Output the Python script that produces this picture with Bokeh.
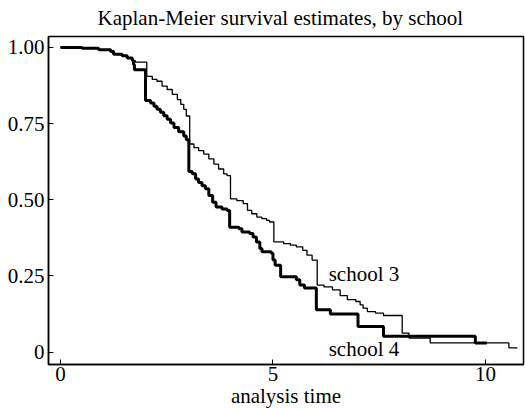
from bokeh.plotting import figure
from bokeh.models import Range1d, FixedTicker, CustomJSTickFormatter, Label
from bokeh.embed import file_html
from bokeh.resources import INLINE

# ---- data ----
school3_t = [0, 0.51, 0.90, 1.18, 1.25, 1.45, 1.57, 1.69, 1.76, 2.03, 2.16, 2.27, 2.39,
             2.51, 2.63, 2.75, 2.83, 2.90, 2.96, 3.04, 3.14, 3.25, 3.37, 3.49, 3.61,
             3.72, 3.84, 3.92, 4.00, 4.15, 4.30, 4.40, 4.50, 4.62, 4.74, 4.85, 4.92,
             5.02, 5.25, 5.41, 5.55, 5.70, 5.80, 5.92, 6.04, 6.20, 6.40, 6.58, 6.75,
             6.95, 7.05, 7.12, 7.22, 7.41, 7.60, 8.04, 8.20, 8.70, 10.55, 10.75]
school3_s = [1.0, 0.997, 0.992, 0.987, 0.978, 0.973, 0.965, 0.957, 0.952, 0.905, 0.895, 0.889, 0.873,
             0.862, 0.846, 0.829, 0.813, 0.797, 0.775, 0.683, 0.671, 0.661, 0.650, 0.634, 0.617,
             0.601, 0.585, 0.579, 0.503, 0.497, 0.487, 0.465, 0.454, 0.443, 0.438, 0.432, 0.427,
             0.362, 0.356, 0.351, 0.345, 0.334, 0.318, 0.302, 0.220, 0.214, 0.204, 0.185, 0.172,
             0.166, 0.155, 0.144, 0.133, 0.128, 0.120, 0.062, 0.046, 0.030, 0.014, 0.014]

school4_t = [0, 0.51, 0.90, 1.18, 1.25, 1.45, 1.57, 1.69, 1.72, 1.74, 2.00, 2.12, 2.20,
             2.27, 2.35, 2.43, 2.51, 2.59, 2.67, 2.78, 2.90, 2.96, 3.02, 3.10, 3.18, 3.25,
             3.33, 3.41, 3.49, 3.58, 3.66, 3.80, 3.92, 3.98, 4.20, 4.27, 4.45, 4.53, 4.61,
             4.69, 4.74, 4.96, 5.00, 5.05, 5.18, 5.55, 5.63, 5.74, 6.02, 6.35, 7.00, 7.60,
             9.76, 10.03]
school4_s = [1.0, 0.997, 0.992, 0.987, 0.978, 0.973, 0.965, 0.957, 0.943, 0.927, 0.826, 0.818, 0.807,
             0.797, 0.787, 0.776, 0.764, 0.752, 0.737, 0.723, 0.709, 0.697, 0.593, 0.585, 0.568, 0.557,
             0.546, 0.536, 0.514, 0.492, 0.476, 0.470, 0.465, 0.410, 0.405, 0.394, 0.389, 0.378, 0.361,
             0.340, 0.329, 0.324, 0.302, 0.285, 0.247, 0.237, 0.220, 0.210, 0.139, 0.125, 0.084, 0.052,
             0.030, 0.030]

x_ticks = [0, 5, 10]
y_ticks = [0, 0.25, 0.5, 0.75, 1.0]
series_names = ["school 3", "school 4"]
title_text = "Kaplan-Meier survival estimates, by school"
x_title = "analysis time"

FONT = "Liberation Serif"
FS = "21px"

p = figure(width=525, height=410, output_backend="svg", toolbar_location=None,
           x_range=Range1d(-0.282, 10.894), y_range=Range1d(-0.0408, 1.0359),
           min_border_left=48, min_border_right=2, min_border_top=35, min_border_bottom=45)

p.background_fill_color = "white"
p.border_fill_color = "white"
p.xgrid.grid_line_color = None
p.ygrid.grid_line_color = None
p.outline_line_color = "black"
p.outline_line_width = 1.5
p.outline_line_alpha = 1.0

p.title.text = title_text
p.title.text_font = FONT
p.title.text_font_size = FS
p.title.text_font_style = "normal"
p.title.text_color = "black"
p.title.align = "left"
p.title.offset = 49
p.title.standoff = 10
p.title.vertical_align = "top"

for ax in (p.xaxis[0], p.yaxis[0]):
    ax.axis_line_color = "black"
    ax.axis_line_width = 1.5
    ax.major_tick_in = 5
    ax.major_tick_out = 0
    ax.major_tick_line_color = "black"
    ax.major_tick_line_width = 1
    ax.minor_tick_line_color = None
    ax.major_label_text_font = FONT
    ax.major_label_text_font_size = FS
    ax.major_label_text_color = "black"
    ax.major_label_text_line_height = 1.0

p.xaxis.ticker = FixedTicker(ticks=x_ticks)
p.yaxis.ticker = FixedTicker(ticks=y_ticks)
p.xaxis.major_label_standoff = 2
p.yaxis.major_label_standoff = 4
p.yaxis.formatter = CustomJSTickFormatter(code="return tick == 0 ? '0' : tick.toFixed(2);")

p.xaxis.axis_label = x_title
p.xaxis.axis_label_text_font = FONT
p.xaxis.axis_label_text_font_size = FS
p.xaxis.axis_label_text_font_style = "normal"
p.xaxis.axis_label_text_color = "black"
p.xaxis.axis_label_text_line_height = 1.0
p.xaxis.axis_label_standoff = 0

p.step(school3_t, school3_s, mode="after", line_color="black", line_width=1.3)
p.step(school4_t, school4_s, mode="after", line_color="black", line_width=3)

p.add_layout(Label(x=6.31, y=0.256, text=series_names[0], text_font=FONT, text_font_size=FS,
                   text_color="black", text_align="left", text_baseline="alphabetic"))
p.add_layout(Label(x=6.31, y=0.011, text=series_names[1], text_font=FONT, text_font_size=FS,
                   text_color="black", text_align="left", text_baseline="alphabetic"))

open("out.html", "w").write(file_html(p, INLINE))
